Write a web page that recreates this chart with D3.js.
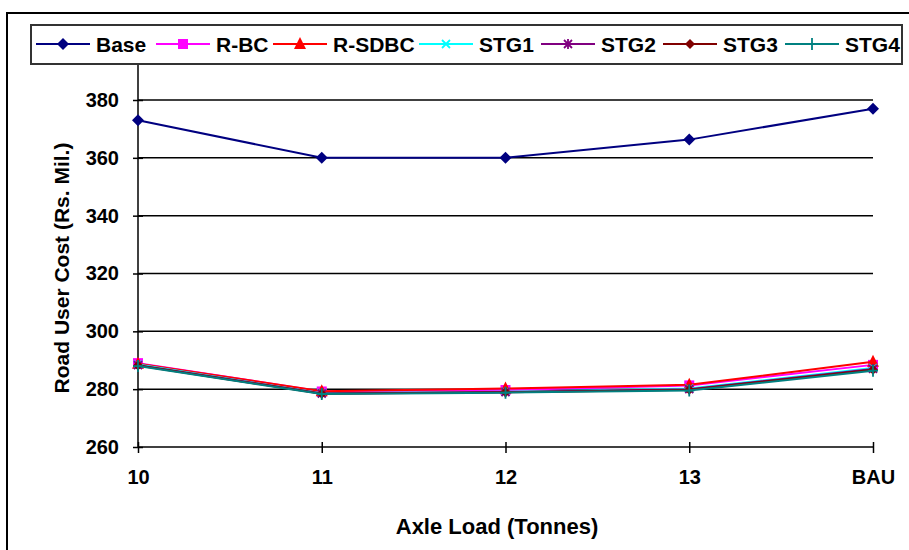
<!DOCTYPE html>
<html><head><meta charset="utf-8">
<script src="https://cdn.jsdelivr.net/npm/d3@7"></script>
<style>body{margin:0;background:#fff}svg{display:block}text{font-family:"Liberation Sans",Arial,sans-serif;font-weight:bold;fill:#000}</style>
</head><body><div id="chart"></div>
<script>
const categories = ["10","11","12","13","BAU"];
const seriesNames = ["Base","R-BC","R-SDBC","STG1","STG2","STG3","STG4"];
const base   = [373, 360, 360, 366.3, 377];
const rbc    = [289, 279.2, 279.7, 281.3, 288.4];
const rsdbc  = [288.8, 279.3, 280.2, 281.5, 289.5];
const stg1   = [288.5, 278.6, 279.1, 280.2, 287.3];
const stg2   = [288.3, 278.5, 279.0, 280.0, 287.0];
const stg3   = [288.2, 278.4, 278.9, 279.8, 286.7];
const stg4   = [288.0, 278.3, 278.8, 279.5, 286.4];
const yTicks = [260, 280, 300, 320, 340, 360, 380];

const values = [base, rbc, rsdbc, stg1, stg2, stg3, stg4];
const colors = ["#000080","#FF00FF","#FF0000","#00FFFF","#800080","#800000","#008080"];
const markers = ["diamond","square","triangle","x","star","diamond2","plus"];

const W = 909, H = 550;
const svg = d3.select("#chart").append("svg").attr("width", W).attr("height", H);

const x = d3.scalePoint().domain(categories).range([138, 873]);
const y = d3.scaleLinear().domain([260, 380]).range([447, 100]);

// outer frame
svg.append("rect").attr("x", 7).attr("y", 13).attr("width", W + 10).attr("height", H + 10)
  .attr("fill", "none").attr("stroke", "#000").attr("stroke-width", 2);

// gridlines
svg.append("g").selectAll("line").data(yTicks.filter(t => t > 260)).join("line")
  .attr("x1", 138).attr("x2", 873).attr("y1", d => y(d)).attr("y2", d => y(d))
  .attr("stroke", "#000").attr("stroke-width", 1.5);

// y axis (the axis line continues up behind the legend, as in the reference)
const yAxis = svg.append("g").attr("transform", "translate(138,0)")
  .call(d3.axisLeft(y).tickValues(yTicks).tickSize(5).tickPadding(14).tickFormat(d3.format("d")));
yAxis.select(".domain").remove();
yAxis.append("line").attr("x1", 0).attr("x2", 0).attr("y1", y(400)).attr("y2", y(260)).attr("stroke", "#000").attr("stroke-width", 1.5);
yAxis.selectAll(".tick line").attr("x1", -5).attr("x2", 5).attr("stroke", "#000").attr("stroke-width", 1.5);
yAxis.selectAll(".tick text").attr("font-size", 20).attr("font-family", "Liberation Sans, Arial, sans-serif").attr("font-weight", "bold").attr("fill", "#000");

// x axis
const xAxis = svg.append("g").attr("transform", `translate(0,${y(260)})`)
  .call(d3.axisBottom(x).tickSize(5).tickPadding(18));
xAxis.select(".domain").attr("d", `M138,0H873`).attr("stroke", "#000").attr("stroke-width", 1.5);
xAxis.selectAll(".tick line").attr("y1", -5).attr("y2", 6).attr("stroke", "#000").attr("stroke-width", 1.5);
xAxis.selectAll(".tick text").attr("font-size", 20).attr("font-family", "Liberation Sans, Arial, sans-serif").attr("font-weight", "bold").attr("fill", "#000");

// axis titles
svg.append("text").attr("transform", "translate(69,268) rotate(-90)").attr("text-anchor", "middle")
  .attr("font-size", 21).text("Road User Cost (Rs. Mil.)");
svg.append("text").attr("x", 497).attr("y", 534).attr("text-anchor", "middle")
  .attr("font-size", 22).text("Axle Load (Tonnes)");

function drawMarker(g, type, color, cx, cy) {
  const s = g.append("g").attr("transform", `translate(${cx},${cy})`);
  if (type === "diamond") s.append("path").attr("d", "M0,-6L6,0L0,6L-6,0Z").attr("fill", color);
  else if (type === "diamond2") s.append("path").attr("d", "M0,-5L5,0L0,5L-5,0Z").attr("fill", color);
  else if (type === "square") s.append("rect").attr("x", -5).attr("y", -5).attr("width", 10).attr("height", 10).attr("fill", color);
  else if (type === "triangle") s.append("path").attr("d", "M0,-7L6,5L-6,5Z").attr("fill", color);
  else if (type === "x") s.append("path").attr("d", "M-4,-4L4,4M-4,4L4,-4").attr("stroke", color).attr("stroke-width", 1.8);
  else if (type === "star") s.append("path").attr("d", "M-4,-4L4,4M-4,4L4,-4M0,-5V5").attr("stroke", color).attr("stroke-width", 1.8);
  else if (type === "plus") s.append("path").attr("d", "M-5,0H5M0,-6V6").attr("stroke", color).attr("stroke-width", 1.8);
}

const line = d3.line().x((d, i) => x(categories[i])).y(d => y(d));
const plot = svg.append("g");
values.forEach((vals, k) => {
  plot.append("path").datum(vals).attr("d", line).attr("fill", "none")
    .attr("stroke", colors[k]).attr("stroke-width", 2);
  vals.forEach((v, i) => drawMarker(plot, markers[k], colors[k], x(categories[i]), y(v)));
});

// legend (covers top of plot area)
const lg = svg.append("g");
lg.append("rect").attr("x", 31).attr("y", 25).attr("width", 871).attr("height", 39)
  .attr("fill", "#fff").attr("stroke", "#333").attr("stroke-width", 2);
const legendLineX = [36, 156, 273, 419, 541, 663, 785];
seriesNames.forEach((name, k) => {
  const x0 = legendLineX[k], cy = 44;
  lg.append("line").attr("x1", x0).attr("x2", x0 + 54).attr("y1", cy).attr("y2", cy)
    .attr("stroke", colors[k]).attr("stroke-width", 2);
  drawMarker(lg, markers[k], colors[k], x0 + 27, cy);
  lg.append("text").attr("x", x0 + 60).attr("y", cy + 7.5).attr("font-size", 21).text(name);
});
</script></body></html>
